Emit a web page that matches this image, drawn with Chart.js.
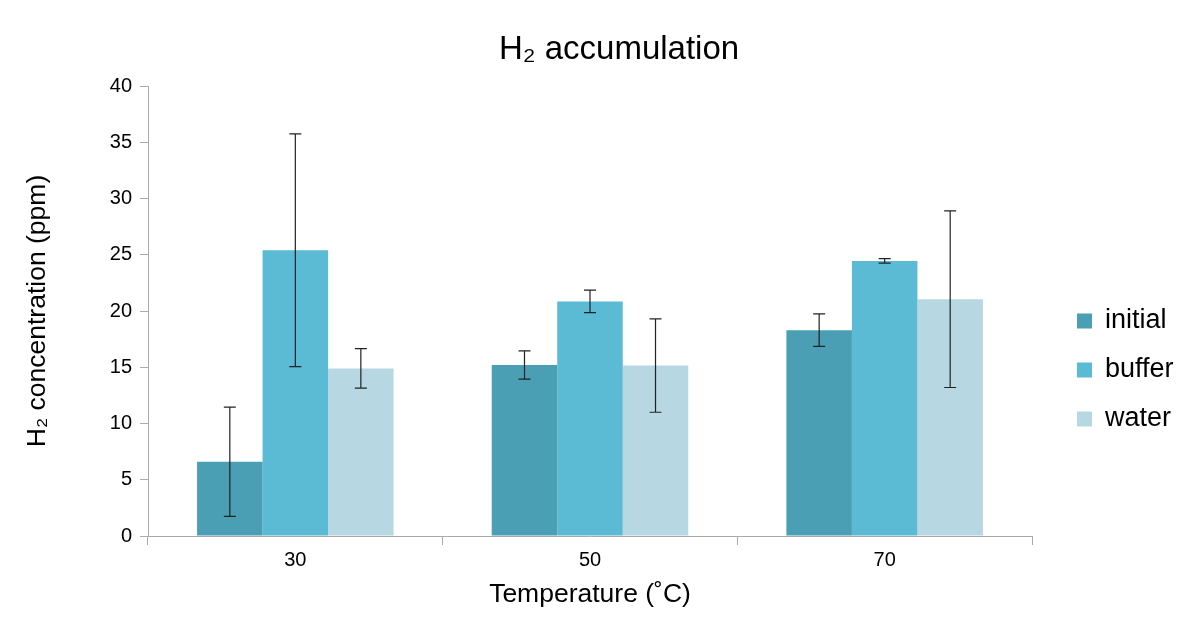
<!DOCTYPE html>
<html>
<head>
<meta charset="utf-8">
<script src="https://cdn.jsdelivr.net/npm/chart.js@4/dist/chart.umd.min.js"></script>
<style>
  html, body { margin: 0; padding: 0; background: #fff; }
  #wrap { width: 1200px; height: 634px; }
</style>
</head>
<body>
<div id="wrap"><canvas id="chartH2"></canvas></div>
<script>
const temperaturas = ['30', '50', '70']
const series = ['initial', 'buffer', 'water']
const initial = [6.6, 15.2, 18.3]
const buffer = [25.4, 20.85, 24.45]
const water = [14.9, 15.15, 21.05]
const erroInitial = [4.85, 1.25, 1.45]
const erroBuffer = [10.35, 1.0, 0.2]
const erroWater = [1.75, 4.15, 7.85]
const cores = ['#4a9fb4', '#5bbad4', '#b7d8e2']
const titulo = 'H₂ accumulation'

const fonte = 'Liberation Sans, Arial, Helvetica, sans-serif'

// barras de erro desenhadas pelas escalas do proprio chart
const barrasErro = {
  id: 'barrasErro',
  afterDatasetsDraw(chart) {
    const ctx = chart.ctx
    const y = chart.scales.y
    ctx.save()
    ctx.strokeStyle = '#222'
    ctx.lineWidth = 1.2
    chart.data.datasets.forEach((ds, i) => {
      const meta = chart.getDatasetMeta(i)
      meta.data.forEach((bar, j) => {
        const v = ds.data[j], e = ds.erros[j]
        const yAlto = y.getPixelForValue(v + e)
        const yBaixo = y.getPixelForValue(v - e)
        ctx.beginPath()
        ctx.moveTo(bar.x, yAlto); ctx.lineTo(bar.x, yBaixo)
        ctx.moveTo(bar.x - 6, yAlto); ctx.lineTo(bar.x + 6, yAlto)
        ctx.moveTo(bar.x - 6, yBaixo); ctx.lineTo(bar.x + 6, yBaixo)
        ctx.stroke()
      })
    })
    ctx.restore()
  }
}

// titulo e legenda na direita
const legenda = {
  id: 'legenda',
  afterDraw(chart) {
    const ctx = chart.ctx
    ctx.save()
    ctx.fillStyle = '#000'
    ctx.textAlign = 'center'
    ctx.textBaseline = 'middle'
    ctx.font = '33px ' + fonte
    ctx.fillText(titulo, 619, 50)

    ctx.font = '27px ' + fonte
    ctx.textAlign = 'left'
    chart.data.datasets.forEach((ds, i) => {
      const yc = 321 + i * 49
      ctx.fillStyle = ds.backgroundColor
      ctx.fillRect(1077, yc - 7.5, 15, 15)
      ctx.fillStyle = '#000'
      ctx.fillText(ds.label, 1105, yc)
    })
    ctx.restore()
  }
}

new Chart(document.getElementById('chartH2'), {
  type: 'bar',
  data: {
    labels: temperaturas,
    datasets: [
      { label: series[0], data: initial, erros: erroInitial, backgroundColor: cores[0] },
      { label: series[1], data: buffer, erros: erroBuffer, backgroundColor: cores[1] },
      { label: series[2], data: water, erros: erroWater, backgroundColor: cores[2] }
    ]
  },
  options: {
    responsive: true,
    maintainAspectRatio: false,
    animation: false,
    datasets: { bar: { categoryPercentage: 0.667, barPercentage: 1.0 } },
    layout: { padding: { left: 0, right: 168, top: 86, bottom: 0 } },
    plugins: {
      legend: { display: false },
      tooltip: { enabled: false },
      title: { display: false }
    },
    scales: {
      x: {
        grid: { drawOnChartArea: false, color: '#aaa', tickLength: 9 },
        border: { color: '#aaa' },
        ticks: { color: '#000', font: { family: fonte, size: 20 }, padding: 3 },
        title: {
          display: true,
          text: 'Temperature (˚C)',
          color: '#000',
          font: { family: fonte, size: 26.5 },
          padding: { top: 0, bottom: 23 }
        },
        afterFit(s) { s.height = 98 }
      },
      y: {
        min: 0,
        max: 40,
        grid: { drawOnChartArea: false, color: '#aaa', tickLength: 8 },
        border: { color: '#aaa' },
        ticks: { stepSize: 5, color: '#000', font: { family: fonte, size: 20 }, padding: 8 },
        title: {
          display: true,
          text: 'H₂ concentration (ppm)',
          color: '#000',
          font: { family: fonte, size: 26.5 },
          padding: { top: 22, bottom: 0 }
        },
        afterFit(s) { s.width = 148 }
      }
    }
  },
  plugins: [barrasErro, legenda]
})
</script>
</body>
</html>
